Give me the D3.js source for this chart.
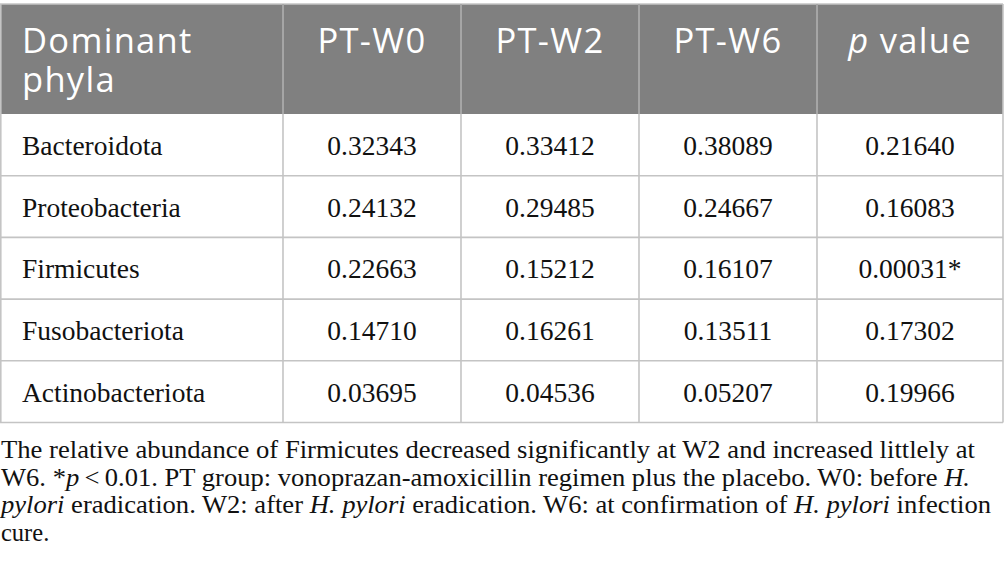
<!DOCTYPE html>
<html>
<head>
<meta charset="utf-8">
<script src="https://cdn.jsdelivr.net/npm/d3@7"></script>
<style>
  body { margin: 0; background: #fff; }
  svg { display: block; }
</style>
</head>
<body>
<div id="chart"></div>
<script>
// table values
const phyla = ["Bacteroidota", "Proteobacteria", "Firmicutes", "Fusobacteriota", "Actinobacteriota"]
const ptW0 = ["0.32343", "0.24132", "0.22663", "0.14710", "0.03695"]
const ptW2 = ["0.33412", "0.29485", "0.15212", "0.16261", "0.04536"]
const ptW6 = ["0.38089", "0.24667", "0.16107", "0.13511", "0.05207"]
const pValues = ["0.21640", "0.16083", "0.00031*", "0.17302", "0.19966"]
const headers = ["Dominant phyla", "PT-W0", "PT-W2", "PT-W6", "p value"]

// caption, one array per line: [text, italic]
const captionLines = [
  [["The relative abundance of Firmicutes decreased significantly at W2 and increased littlely at", false]],
  [["W6. *", false], ["p", true], ["\u2009<\u20090.01. PT group: vonoprazan-amoxicillin regimen plus the placebo. W0: before ", false], ["H.", true]],
  [["pylori", true], [" eradication. W2: after ", false], ["H. pylori", true], [" eradication. W6: at confirmation of ", false], ["H. pylori", true], [" infection", false]],
  [["cure.", false]]
]

const width = 1005
const height = 587
const colEdges = [0, 283, 461, 639, 817, 1003]
const headTop = 4
const headBottom = 114
const tableBottom = 422.5
const gridColor = "#c4c4c4"

const svg = d3.select("#chart").append("svg")
    .attr("width", width)
    .attr("height", height)

const yScale = d3.scaleBand().domain(phyla).range([headBottom, tableBottom])
const colIdx = d3.range(headers.length)

// header
svg.append("rect")
    .attr("x", colEdges[0]).attr("y", headTop)
    .attr("width", colEdges[5] - colEdges[0]).attr("height", headBottom - headTop)
    .attr("fill", "#808080")

const head = svg.append("g")
    .attr("font-family", "'Open Sans', sans-serif")
    .attr("font-size", 34.5)
    .attr("fill", "#fff")
    .style("letter-spacing", "1.3px")

head.selectAll("text")
    .data(colIdx)
    .join("text")
    .attr("x", i => i === 0 ? 22 : (colEdges[i] + colEdges[i + 1]) / 2)
    .attr("y", 52.5)
    .attr("text-anchor", i => i === 0 ? "start" : "middle")
    .each(function(i) {
      const t = d3.select(this)
      if (i === 0) {
        headers[0].split(" ").forEach((w, k) => {
          t.append("tspan").attr("x", 22).attr("dy", k === 0 ? 0 : 39.5).text(w)
        })
      } else if (i === 4) {
        const [p, rest] = headers[4].split(" ")
        t.append("tspan").attr("font-style", "italic").text(p)
        t.append("tspan").text(" " + rest)
      } else {
        t.text(headers[i])
      }
    })

// body cells
const rows = phyla.map((d, i) => [d, ptW0[i], ptW2[i], ptW6[i], pValues[i]])

const body = svg.append("g")
    .attr("font-family", "'Liberation Serif', 'Times New Roman', serif")
    .attr("font-size", 27.5)
    .attr("fill", "#111")

body.selectAll("g")
    .data(rows)
    .join("g")
    .attr("transform", d => `translate(0,${yScale(d[0]) + yScale.bandwidth() / 2 + 10})`)
    .selectAll("text")
    .data(d => d)
    .join("text")
    .attr("x", (d, i) => i === 0 ? 22 : (colEdges[i] + colEdges[i + 1]) / 2)
    .attr("text-anchor", (d, i) => i === 0 ? "start" : "middle")
    .text(d => d)

// grid lines
const grid = svg.append("g")
    .attr("stroke", gridColor)
    .attr("stroke-width", 1.6)
    .attr("fill", "none")

grid.selectAll(".hline")
    .data(phyla.slice(1))
    .join("line")
    .attr("class", "hline")
    .attr("x1", colEdges[0]).attr("x2", colEdges[5])
    .attr("y1", d => yScale(d)).attr("y2", d => yScale(d))

grid.append("line")
    .attr("x1", colEdges[0]).attr("x2", colEdges[5])
    .attr("y1", tableBottom).attr("y2", tableBottom)

grid.append("line")
    .attr("x1", colEdges[0]).attr("x2", colEdges[5])
    .attr("y1", headTop).attr("y2", headTop)

grid.selectAll(".vline")
    .data(colEdges)
    .join("line")
    .attr("class", "vline")
    .attr("x1", d => Math.min(Math.max(d, 0.8), width - 0.8))
    .attr("x2", d => Math.min(Math.max(d, 0.8), width - 0.8))
    .attr("y1", headTop).attr("y2", tableBottom)

// lighter separators inside header
svg.append("g")
    .attr("stroke", "#a2a2a2")
    .attr("stroke-width", 1.6)
    .selectAll("line")
    .data(colEdges.slice(1, 5))
    .join("line")
    .attr("x1", d => d).attr("x2", d => d)
    .attr("y1", headTop).attr("y2", headBottom)

// caption
const capBase = [458, 485.5, 513, 540.5]
const capWidths = [975, 970, 991, null]

const caption = svg.append("g")
    .attr("font-family", "'Liberation Serif', 'Times New Roman', serif")
    .attr("font-size", 24.5)
    .attr("fill", "#111")

caption.selectAll("text")
    .data(captionLines)
    .join("text")
    .attr("x", 1)
    .attr("y", (d, i) => capBase[i])
    .each(function(parts, i) {
      const t = d3.select(this)
      if (capWidths[i]) t.attr("textLength", capWidths[i] - 1).attr("lengthAdjust", "spacingAndGlyphs")
      parts.forEach(([txt, it]) => {
        t.append("tspan").attr("font-style", it ? "italic" : null).text(txt)
      })
    })
</script>
</body>
</html>
